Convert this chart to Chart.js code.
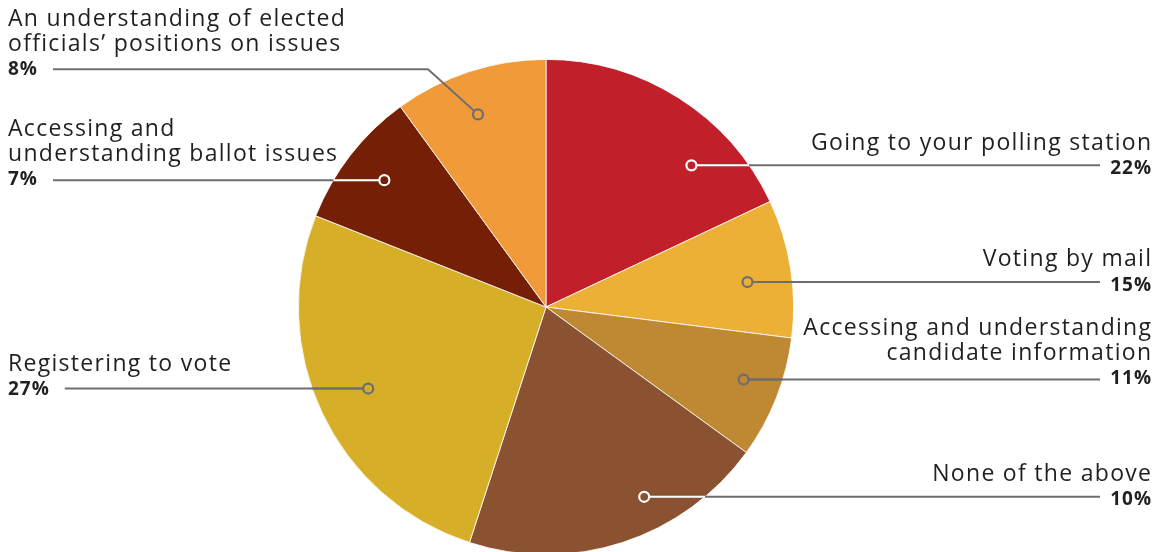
<!DOCTYPE html>
<html>
<head>
<meta charset="utf-8">
<script src="https://cdn.jsdelivr.net/npm/chart.js@4"></script>
<style>
  html, body { margin: 0; padding: 0; background: #fff; overflow: hidden; }
  #wrap { position: relative; width: 1157px; height: 614px; }
</style>
</head>
<body>
<div id="wrap"><canvas id="chart"></canvas></div>
<script>
// Kategorien, im Uhrzeigersinn ab 12 Uhr
const categories = [
  "Going to your polling station",
  "Voting by mail",
  "Accessing and understanding candidate information",
  "None of the above",
  "Registering to vote",
  "Accessing and understanding ballot issues",
  "An understanding of elected officials’ positions on issues"
];
// Anteile der Segmente, so wie sie im Bild gezeichnet sind
const sliceShares = [18, 9, 8, 20, 26, 9, 10];
// Prozentangaben in den Beschriftungen
const labelPercents = ["22%", "15%", "11%", "10%", "27%", "7%", "8%"];
// Zeilenumbrueche der Beschriftungen
const labelLines = [
  ["Going to your polling station"],
  ["Voting by mail"],
  ["Accessing and understanding", "candidate information"],
  ["None of the above"],
  ["Registering to vote"],
  ["Accessing and", "understanding ballot issues"],
  ["An understanding of elected", "officials’ positions on issues"]
];
const sliceColors = ["#c1202a", "#ebb035", "#bf8833", "#8b5232", "#d7ae28", "#752006", "#f09a3a"];

// Layout der Beschriftungen (Position im Segment als Anteil von Winkel/Radius)
const labelLayout = [
  { side: "right", pctY: 174, frac: 0.706, rad: 0.82, dot: "#fff" },
  { side: "right", pctY: 290.7, frac: 0.56, rad: 0.82, dot: "#6d6e71" },
  { side: "right", pctY: 384, frac: 0.45, rad: 0.85, dot: "#6d6e71" },
  { side: "right", pctY: 505, frac: 0.37, rad: 0.863, dot: "#fff" },
  { side: "left", pctY: 395, frac: 0.506, rad: 0.79, dot: "#6d6e71" },
  { side: "left", pctY: 185, frac: 0.51, rad: 0.83, dot: "#fff" },
  { side: "left", pctY: 75, frac: 0.46, rad: 0.825, dot: "#6d6e71", bend: { x: 428, y: 69.3 } }
];

const FONT = "'Open Sans', sans-serif";
const GREY = "#6d6e71";
const TEXT = "#231f20";
const SP_MAIN = 1.3;
const SP_PCT = 1;

const leaderPlugin = {
  id: "leader",
  afterDraw(chart) {
    const ctx = chart.ctx;
    const arcs = chart.getDatasetMeta(0).data;
    ctx.save();
    labelLayout.forEach((lay, i) => {
      const arc = arcs[i];
      const p = arc.getProps(["x", "y", "startAngle", "endAngle", "outerRadius"], true);
      const a = p.startAngle + lay.frac * (p.endAngle - p.startAngle);
      const r = lay.rad * p.outerRadius;
      const dx = p.x + Math.cos(a) * r;
      const dy = p.y + Math.sin(a) * r;
      const right = lay.side === "right";

      // Texte
      ctx.fillStyle = TEXT;
      ctx.textBaseline = "alphabetic";
      const tx = right ? 1151 : 8;
      ctx.textAlign = right ? "right" : "left";
      ctx.font = "bold 19px " + FONT;
      ctx.letterSpacing = SP_PCT + "px";
      ctx.fillText(labelPercents[i], right ? tx + SP_PCT : tx, lay.pctY);
      const pctW = ctx.measureText(labelPercents[i]).width - SP_PCT;
      ctx.font = "23px " + FONT;
      ctx.letterSpacing = SP_MAIN + "px";
      const lines = labelLines[i];
      lines.forEach((ln, k) => {
        ctx.fillText(ln, right ? tx + SP_MAIN : tx, lay.pctY - 24.5 * (lines.length - k));
      });
      ctx.letterSpacing = "0px";

      // Linie
      ctx.lineWidth = 2;
      ctx.strokeStyle = GREY;
      ctx.beginPath();
      if (lay.bend) {
        ctx.moveTo(tx + pctW + 16, lay.bend.y);
        ctx.lineTo(lay.bend.x, lay.bend.y);
        ctx.lineTo(dx, dy);
      } else if (right) {
        ctx.moveTo(dx, dy);
        ctx.lineTo(1100, dy);
      } else {
        ctx.moveTo(tx + pctW + 16, dy);
        ctx.lineTo(dx, dy);
      }
      ctx.stroke();

      // Teil innerhalb des Kreises in Punktfarbe
      if (!lay.bend) {
        const h = Math.sqrt(Math.max(0, p.outerRadius * p.outerRadius - (dy - p.y) * (dy - p.y)));
        const edge = right ? p.x + h : p.x - h;
        ctx.strokeStyle = lay.dot;
        ctx.beginPath();
        ctx.moveTo(dx, dy);
        ctx.lineTo(edge, dy);
        ctx.stroke();
      }

      // Punkt
      ctx.beginPath();
      ctx.arc(dx, dy, 5, 0, Math.PI * 2);
      ctx.fillStyle = sliceColors[i];
      ctx.fill();
      ctx.lineWidth = 2.2;
      ctx.strokeStyle = lay.dot;
      ctx.stroke();
    });
    ctx.restore();
  }
};

new Chart(document.getElementById("chart"), {
  type: "pie",
  data: {
    labels: categories,
    datasets: [{
      data: sliceShares,
      backgroundColor: sliceColors,
      borderColor: "#ffffff",
      borderWidth: 0.8
    }]
  },
  options: {
    responsive: true,
    maintainAspectRatio: false,
    animation: false,
    layout: { padding: { top: 59, bottom: 59, left: 0, right: 65 } },
    plugins: {
      legend: { display: false },
      tooltip: { enabled: false }
    }
  },
  plugins: [leaderPlugin]
});
</script>
</body>
</html>
